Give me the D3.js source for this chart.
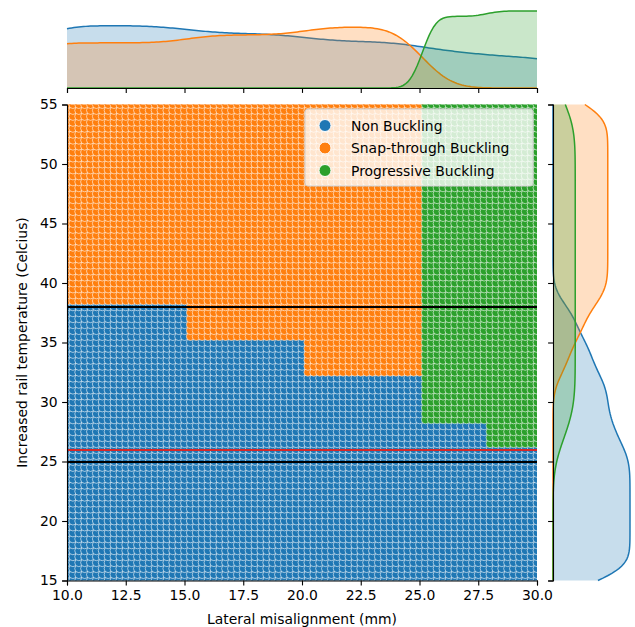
<!DOCTYPE html>
<html>
<head>
<meta charset="utf-8">
<script src="https://cdn.jsdelivr.net/npm/d3@7"></script>
<style>
  body { margin: 0; background: #fff; }
  text { font-family: "DejaVu Sans", sans-serif; }
</style>
</head>
<body>
<div id="chart"></div>
<script>
// simulation grid (mm, Celcius); the grid runs a little past the plotted x range
var xStep = 0.25, yStep = 0.5;
var xGrid = [8, 32], yGrid = [15, 55];
var xDomain = [10, 30], yDomain = [15, 55];

// misalignment bands: last column of each band, highest non-buckling temperature, class above it
var bandLastCol = [15, 20, 25, 27.75, 32];
var nonBucklingTop = [38, 35, 32, 28, 26];
var upperClass = [1, 1, 1, 2, 2];

var classes = ["Non Buckling", "Snap-through Buckling", "Progressive Buckling"];
var colors = ["#1f77b4", "#ff7f0e", "#2ca02c"];

// reference temperatures
var refTemps = [38, 25, 26];
var refColors = ["black", "black", "#d62728"];

var xTicks = [10, 12.5, 15, 17.5, 20, 22.5, 25, 27.5, 30];
var yTicks = [15, 20, 25, 30, 35, 40, 45, 50, 55];

function drawJoint() {
  var W = 635, H = 627;
  var main = { left: 67, right: 537, top: 104.5, bottom: 580.5 };
  var margTop = { base: 88, peak: 11 };
  var margRight = { base: 553, peak: 630 };

  var svg = d3.select("#chart").append("svg")
    .attr("width", W).attr("height", H);

  var x = d3.scaleLinear().domain(xDomain).range([main.left, main.right]);
  var y = d3.scaleLinear().domain(yDomain).range([main.bottom, main.top]);

  // build points
  var data = [];
  var xs = d3.range(xGrid[0], xGrid[1] + xStep / 2, xStep);
  var ys = d3.range(yGrid[0], yGrid[1] + yStep / 2, yStep);
  xs.forEach(function (xv) {
    var b = bandLastCol.findIndex(function (e) { return xv <= e + 1e-9; });
    ys.forEach(function (yv) {
      var c = yv <= nonBucklingTop[b] + 1e-9 ? 0 : upperClass[b];
      data.push({ x: xv, y: yv, c: c });
    });
  });

  svg.append("clipPath").attr("id", "clipMain").append("rect")
    .attr("x", main.left).attr("y", main.top)
    .attr("width", main.right - main.left).attr("height", main.bottom - main.top);

  var g = svg.append("g").attr("clip-path", "url(#clipMain)");
  g.selectAll("circle")
    .data(data.filter(function (d) { return d.x >= xDomain[0] - 0.5 && d.x <= xDomain[1] + 0.5; }))
    .enter().append("circle")
    .attr("cx", function (d) { return x(d.x); })
    .attr("cy", function (d) { return y(d.y); })
    .attr("r", 4)
    .style("fill", function (d) { return colors[d.c]; })
    .style("stroke", "white")
    .style("stroke-width", 0.6);

  refTemps.forEach(function (t, i) {
    var py = Math.round(y(t));
    g.append("line")
      .attr("x1", main.left).attr("x2", main.right)
      .attr("y1", py).attr("y2", py)
      .style("stroke", refColors[i]).style("stroke-width", 2);
  });

  // axes
  function styleAxis(sel) {
    sel.selectAll("text").style("font-size", "13.9px").style("fill", "#000");
    sel.selectAll("line,path").style("stroke", "#000").style("stroke-width", 1.1);
  }
  svg.append("g").attr("transform", "translate(0," + main.bottom + ")")
    .call(d3.axisBottom(x).tickValues(xTicks).tickFormat(d3.format(".1f"))
      .tickSizeOuter(0).tickSize(4.9).tickPadding(4.5))
    .call(styleAxis);
  svg.append("g").attr("transform", "translate(" + main.left + ",0)")
    .call(d3.axisLeft(y).tickValues(yTicks).tickFormat(d3.format("d"))
      .tickSizeOuter(0).tickSize(4.9).tickPadding(4.5))
    .call(styleAxis);

  svg.append("text")
    .attr("x", (main.left + main.right) / 2).attr("y", 624)
    .style("text-anchor", "middle").style("font-size", "13.9px")
    .text("Lateral misalignment (mm)");
  svg.append("text")
    .attr("transform", "rotate(-90)")
    .attr("x", -(main.top + main.bottom) / 2).attr("y", 27)
    .style("text-anchor", "middle").style("font-size", "13.9px")
    .text("Increased rail temperature (Celcius)");

  // marginal KDEs (gaussian, Scott bandwidth, common norm)
  var N = data.length;
  function kde(values, grid) {
    var n = values.length;
    var sd = d3.deviation(values);
    var h = Math.pow(n, -0.2) * sd;
    return grid.map(function (t) {
      var s = 0;
      for (var i = 0; i < n; i++) {
        var u = (t - values[i]) / h;
        s += Math.exp(-0.5 * u * u);
      }
      return [t, s / (N * h * Math.sqrt(2 * Math.PI))];
    });
  }
  var gx = d3.range(0, 201).map(function (i) { return xDomain[0] + (xDomain[1] - xDomain[0]) * i / 200; });
  var gy = d3.range(0, 201).map(function (i) { return yDomain[0] + (yDomain[1] - yDomain[0]) * i / 200; });
  var densX = classes.map(function (c, k) {
    return kde(data.filter(function (d) { return d.c === k; }).map(function (d) { return d.x; }), gx);
  });
  var densY = classes.map(function (c, k) {
    return kde(data.filter(function (d) { return d.c === k; }).map(function (d) { return d.y; }), gy);
  });
  var maxX = d3.max(densX, function (a) { return d3.max(a, function (p) { return p[1]; }); });
  var maxY = d3.max(densY, function (a) { return d3.max(a, function (p) { return p[1]; }); });

  var dTop = d3.scaleLinear().domain([0, maxX]).range([margTop.base, margTop.peak]);
  var dRight = d3.scaleLinear().domain([0, maxY]).range([margRight.base, margRight.peak]);

  var areaTop = d3.area().x(function (p) { return x(p[0]); }).y0(margTop.base).y1(function (p) { return dTop(p[1]); });
  var lineTop = d3.line().x(function (p) { return x(p[0]); }).y(function (p) { return dTop(p[1]); });
  var areaRight = d3.area().y(function (p) { return y(p[0]); }).x0(margRight.base).x1(function (p) { return dRight(p[1]); });
  var lineRight = d3.line().y(function (p) { return y(p[0]); }).x(function (p) { return dRight(p[1]); });

  densX.forEach(function (a, k) {
    svg.append("path").attr("d", areaTop(a)).style("fill", colors[k]).style("fill-opacity", 0.25);
    svg.append("path").attr("d", lineTop(a)).style("fill", "none").style("stroke", colors[k]).style("stroke-width", 1.5);
  });
  densY.forEach(function (a, k) {
    svg.append("path").attr("d", areaRight(a)).style("fill", colors[k]).style("fill-opacity", 0.25);
    svg.append("path").attr("d", lineRight(a)).style("fill", "none").style("stroke", colors[k]).style("stroke-width", 1.5);
  });

  svg.append("g").attr("transform", "translate(0," + margTop.base + ")")
    .call(d3.axisBottom(x).tickValues(xTicks).tickFormat("").tickSizeOuter(0).tickSize(4.9))
    .call(styleAxis);
  svg.append("g").attr("transform", "translate(" + margRight.base + ",0)")
    .call(d3.axisLeft(y).tickValues(yTicks).tickFormat("").tickSizeOuter(0).tickSize(4.9))
    .call(styleAxis);

  // legend
  var lg = svg.append("g").attr("transform", "translate(305,109)");
  lg.append("rect").attr("width", 228).attr("height", 77).attr("rx", 3)
    .style("fill", "white").style("fill-opacity", 0.8)
    .style("stroke", "#cccccc").style("stroke-width", 1);
  classes.forEach(function (c, k) {
    var row = lg.append("g").attr("transform", "translate(0," + (16.5 + k * 22.5) + ")");
    row.append("circle").attr("cx", 20).attr("cy", 0).attr("r", 6)
      .style("fill", colors[k]).style("stroke", "white").style("stroke-width", 1);
    row.append("text").attr("x", 46).attr("y", 5).style("font-size", "13.9px").text(c);
  });
}

drawJoint();
</script>
</body>
</html>
